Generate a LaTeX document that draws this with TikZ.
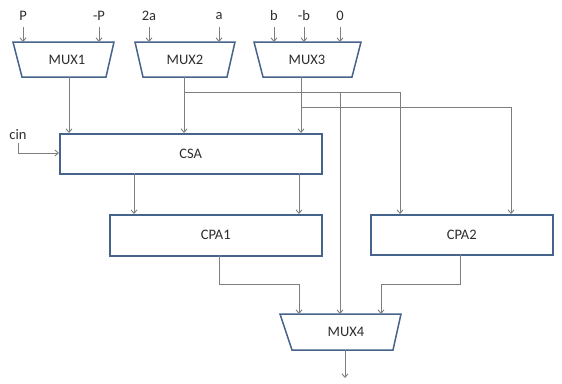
\documentclass[tikz,border=0pt]{standalone}
\usepackage{fontspec}
\setmainfont{Carlito}
\usetikzlibrary{arrows.meta}
\definecolor{boxc}{HTML}{46638C}
\definecolor{linec}{HTML}{7E7E7E}
\definecolor{txtc}{HTML}{2E2E2E}
\tikzset{
  box/.style={draw=boxc, line width=1.5pt, fill=white},
  blk/.style={box, rectangle, inner sep=0pt, anchor=north west},
  lbl/.style={text=txtc, font=\fontsize{14.5}{16}\selectfont, inner sep=0pt},
  arr/.style={draw=linec, line width=0.9pt, -{Straight Barb[length=3.5pt,width=6pt]}},
  ln/.style={draw=linec, line width=0.9pt},
}
\begin{document}
\begin{tikzpicture}[x=1pt,y=-1pt]
\useasboundingbox[fill=white] (0,0) rectangle (562,383);
% MUX trapezoids
\draw[box] (13,42) -- (114,42) -- (106,77) -- (22,77) -- cycle;
\draw[box] (135,42) -- (235,42) -- (227,77) -- (143,77) -- cycle;
\draw[box] (254,42) -- (361,42) -- (352,77) -- (263,77) -- cycle;
\draw[box] (280,314) -- (401,314) -- (393,350) -- (292,350) -- cycle;
\node[lbl] (mux1) at (67,60) {MUX1};
\node[lbl] (mux2) at (185,60) {MUX2};
\node[lbl] (mux3) at (307,60) {MUX3};
\node[lbl] (mux4) at (346,332) {MUX4};
% blocks
\node[blk, minimum width=262pt, minimum height=40pt] (csa) at (59,133) {};
\node[lbl] at (csa.center) {CSA};
\node[blk, minimum width=212pt, minimum height=41pt] (cpa1) at (109,214) {};
\node[lbl] at (cpa1.center) {CPA1};
\node[blk, minimum width=182pt, minimum height=40pt] (cpa2) at (370,214) {};
\node[lbl] at (cpa2.center) {CPA2};
% input labels
\node[lbl] (iP) at (23,16) {P};
\node[lbl] (imP) at (99,16) {-P};
\node[lbl] (i2a) at (149,16) {2a};
\node[lbl] (ia) at (219,16) {a};
\node[lbl] (ib) at (274,16) {b};
\node[lbl] (imb) at (304,16) {-b};
\node[lbl] (i0) at (340,16) {0};
\node[lbl] (cin) at (18,135) {cin};
% input arrows
\foreach \n in {iP,imP,i2a,ia,ib,imb,i0}
  \draw[arr] (\n.south |- 0,27) -- (\n.south |- 0,42);
% port coordinates
\coordinate (m1o) at (69,77);
\coordinate (m2o) at (184,77);
\coordinate (m3o) at (301,77);
\coordinate (b2) at (184,92);
\coordinate (b3) at (301,107);
\coordinate (m4o) at (345,350);
\coordinate (out) at (345,378);
% MUX outputs into CSA
\draw[arr] (m1o) -- (m1o |- csa.north);
\draw[arr] (m2o) -- (m2o |- csa.north);
\draw[arr] (m3o) -- (m3o |- csa.north);
% branches
\draw[ln] (b2) -- (400,92);
\draw[arr] (400,92) -- (400,214);
\draw[arr] (340,92) -- (340,314);
\draw[ln] (b3) -- (511,107);
\draw[arr] (511,107) -- (511,214);
% cin
\draw[arr] (18,143) -- (18,153) -- (csa.west |- 0,153);
% CSA to CPA1
\draw[arr] (134,173) -- (134,214);
\draw[arr] (299,173) -- (299,214);
% CPA outputs to MUX4
\draw[arr] (219,255) -- (219,284) -- (299,284) -- (299,314);
\draw[arr] (460,254) -- (460,284) -- (381,284) -- (381,314);
% output
\draw[arr] (m4o) -- (out);
\end{tikzpicture}
\end{document}
